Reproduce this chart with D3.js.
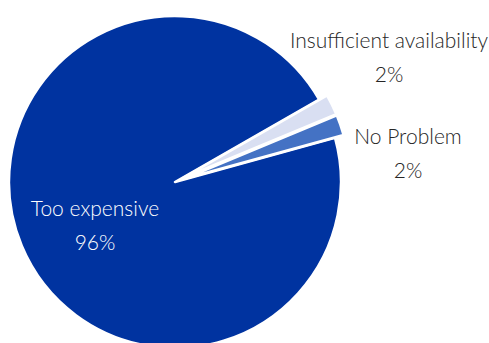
<!DOCTYPE html>
<html>
<head>
<meta charset="utf-8">
<script src="https://cdn.jsdelivr.net/npm/d3@7"></script>
<style>
  html, body { margin: 0; padding: 0; background: #fff; }
  text { font-family: "Lato", "Open Sans", sans-serif; font-weight: 300; }
</style>
</head>
<body>
<div id="wrapper"></div>
<script>
  // data
  const categories = ["Too expensive", "Insufficient availability", "No Problem"]
  const shares = [96, 2, 2]
  const percentLabels = ["96%", "2%", "2%"]
  const sliceColors = ["#0033a0", "#d9dff2", "#4472c4"]
  const exploded = [false, true, true]

  const data = categories.map((c, i) => ({
    category: c,
    value: shares[i],
    pct: percentLabels[i],
    color: sliceColors[i],
    explode: exploded[i],
  }))

  // dimensions
  const dimensions = {
    width: 489,
    height: 343,
    cx: 175,
    cy: 182,
    radius: 166,
    explodeBy: 9,
  }

  const wrapper = d3
    .select("#wrapper")
    .append("svg")
    .attr("width", dimensions.width)
    .attr("height", dimensions.height)

  const bounds = wrapper
    .append("g")
    .attr("transform", `translate(${dimensions.cx},${dimensions.cy})`)

  // pie layout; first slice starts just below the gap, going clockwise
  const startDeg = 74.6
  const pie = d3
    .pie()
    .sort(null)
    .value((d) => d.value)
    .startAngle((startDeg * Math.PI) / 180)
    .endAngle(((startDeg + 360) * Math.PI) / 180)

  const arcs = pie(data)

  const arc = d3.arc().innerRadius(0).outerRadius(dimensions.radius)

  const offsetFor = (d) => {
    if (!d.data.explode) return [0, 0]
    const mid = (d.startAngle + d.endAngle) / 2
    return [
      Math.sin(mid) * dimensions.explodeBy,
      -Math.cos(mid) * dimensions.explodeBy,
    ]
  }

  bounds
    .selectAll("path.slice")
    .data(arcs)
    .join("path")
    .attr("class", "slice")
    .attr("d", arc)
    .attr("transform", (d) => `translate(${offsetFor(d)})`)
    .attr("fill", (d) => d.data.color)
    .attr("stroke", "#fff")
    .attr("stroke-width", 2.5)
    .attr("stroke-linejoin", "round")

  // labels (two lines each), placed around the slice positions
  const labelLayout = [
    { x: -80, y: 34, fill: "#fff" },
    { x: 214, y: -134, fill: "#262626" },
    { x: 233, y: -38, fill: "#262626" },
  ]

  const labels = bounds
    .selectAll("g.label")
    .data(arcs)
    .join("g")
    .attr("class", "label")
    .attr("transform", (d, i) => `translate(${labelLayout[i].x},${labelLayout[i].y})`)

  labels
    .append("text")
    .attr("text-anchor", "middle")
    .attr("font-size", 21)
    .attr("fill", (d, i) => labelLayout[i].fill)
    .text((d) => d.data.category)

  labels
    .append("text")
    .attr("text-anchor", "middle")
    .attr("font-size", 21)
    .attr("y", 34)
    .attr("fill", (d, i) => labelLayout[i].fill)
    .text((d) => d.data.pct)
</script>
</body>
</html>
